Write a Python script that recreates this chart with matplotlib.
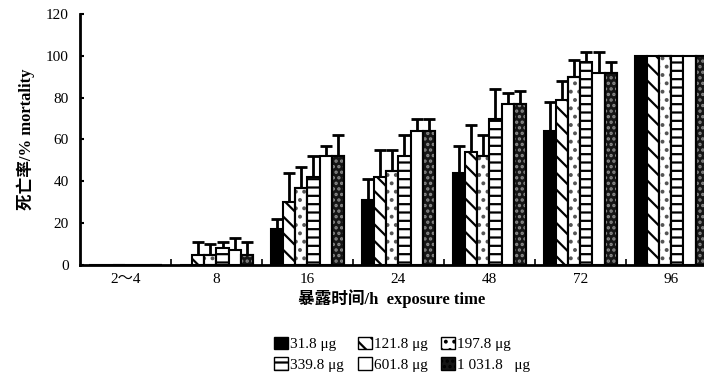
import numpy as np
import matplotlib.pyplot as plt
from matplotlib.patches import Patch

plt.rcParams['font.family'] = ['Liberation Serif', 'Noto Sans CJK SC', 'DejaVu Sans']
plt.rcParams['hatch.linewidth'] = 1.6

times = ["2～4", "8", "16", "24", "48", "72", "96"]
doses = ["31.8 μg", "121.8 μg", "197.8 μg", "339.8 μg", "601.8 μg", "1 031.8   μg"]

# mortality (%) per dose, one list per dose, across exposure times
m_31 = [0, 0, 17, 31, 44, 64, 100]
m_121 = [0, 5, 30, 42, 54, 79, 100]
m_197 = [0, 5, 37, 45, 52, 90, 100]
m_339 = [0, 8, 42, 52, 70, 97, 100]
m_601 = [0, 7, 52, 64, 77, 92, 100]
m_1031 = [0, 5, 52, 64, 77, 92, 100]

# upper error (SD)
e_31 = [0, 0, 5, 10, 13, 14, 0]
e_121 = [0, 6, 14, 13, 13, 9, 0]
e_197 = [0, 5, 10, 10, 10, 8, 0]
e_339 = [0, 3, 10, 10, 14, 5, 0]
e_601 = [0, 6, 5, 6, 5, 10, 0]
e_1031 = [0, 6, 10, 6, 6, 5, 0]

vals = [m_31, m_121, m_197, m_339, m_601, m_1031]
errs = [e_31, e_121, e_197, e_339, e_601, e_1031]
faces = ["black", "white", "white", "white", "white", "#151515"]
hatches = [None, "\\\\", None, "--", None, None]
# light speckle overlay (hatch, colour), used for the dotted and dark bars
specks = [None, None, ("..", "#555555"), None, None, ("...", "#8a8a8a")]

fig = plt.figure(figsize=(7.04, 3.78), dpi=100)
ax = fig.add_axes([0.1136, 0.299, 0.8864, 0.664])

x = np.arange(len(times))
w = 0.134
for i in range(6):
    pos = x + (i - 2.5) * w
    ax.bar(pos, vals[i], w, color=faces[i], edgecolor="black",
           hatch=hatches[i], linewidth=1.5, zorder=2)
    if specks[i]:
        ax.bar(pos, vals[i], w, fill=False, edgecolor=specks[i][1],
               hatch=specks[i][0], linewidth=0, zorder=3)
        ax.bar(pos, vals[i], w, fill=False, edgecolor="black", linewidth=1.5, zorder=4)
    yerr = np.array([np.zeros(len(times)), errs[i]])
    has = np.array(errs[i]) > 0
    ax.errorbar(pos[has], np.array(vals[i])[has], yerr=yerr[:, has], fmt="none",
                ecolor="black", elinewidth=2, capsize=4, capthick=2, zorder=1)

ax.set_xlim(-0.5, 6.36)
ax.set_ylim(0, 120)
ax.set_yticks(range(0, 121, 20))
ax.set_xticks(x)
ax.set_xticklabels(times)
ax.set_xticks(x[:-1] + 0.5, minor=True)
ax.tick_params(axis="x", which="major", length=0, labelsize=11, pad=6)
ax.tick_params(axis="x", which="minor", direction="in", length=4, width=1.2)
ax.tick_params(axis="y", direction="in", length=3, width=1.5, labelsize=11, pad=8)
for s in ["top", "right"]:
    ax.spines[s].set_visible(False)
for s in ["left", "bottom"]:
    ax.spines[s].set_linewidth(2)

ax.set_xlabel("暴露时间/h  exposure time", fontsize=12, fontweight="bold", labelpad=2)
ax.set_ylabel("死亡率/% mortality", fontsize=12, fontweight="bold", labelpad=8)

handles = [Patch(facecolor=faces[i], edgecolor="black",
                 hatch=hatches[i] or (specks[i][0] if specks[i] else None), linewidth=1)
           for i in range(6)]
order = [0, 3, 1, 4, 2, 5]
fig.legend([handles[k] for k in order], [doses[k] for k in order], ncol=3,
           loc="center left", bbox_to_anchor=(0.37, 0.063), frameon=False, fontsize=11,
           handlelength=0.9, handleheight=0.9, handletextpad=0.15, columnspacing=0.9,
           labelspacing=0.4)

fig.savefig("out.png", dpi=100)
